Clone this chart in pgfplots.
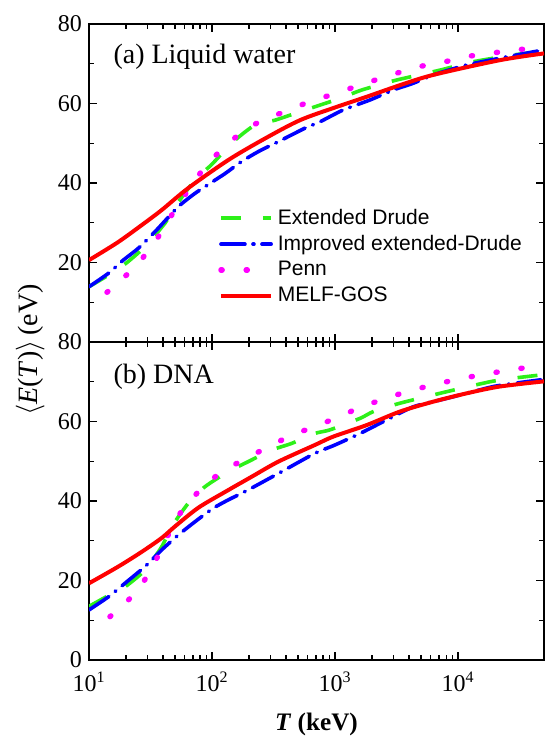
\documentclass[border=0pt]{standalone}
\usepackage{fontspec}
\setmainfont{Liberation Serif}
\setsansfont{Liberation Sans}
\usepackage{pgfplots}
\pgfplotsset{compat=1.18}

\definecolor{edgreen}{RGB}{45,240,25}
\definecolor{iedblue}{RGB}{0,0,255}
\definecolor{pennmag}{RGB}{255,0,255}
\definecolor{melfred}{RGB}{255,0,0}

\tikzset{
  ed/.style={edgreen, line width=1.8pt, dash pattern=on 10pt off 11pt},
  ied/.style={iedblue, line width=1.8pt, line cap=round, dash pattern=on 12pt off 4pt on 0.5pt off 4pt},
  penn/.style={pennmag, line width=2.7pt, line cap=round, dash pattern=on 0.6pt off 12pt},
  melf/.style={melfred, line width=2pt},
}

\begin{document}
\begin{tikzpicture}
\begin{axis}[name=a,
  scale only axis, width=227.5pt, height=159pt,
  xmode=log, xmin=10, xmax=5e4, ymin=0, ymax=80,
  xtick={10,100,1000,10000},
  ytick={0,20,40,60,80}, minor ytick={10,30,50,70},
  tick align=inside, major tick length=4pt, minor tick length=2.5pt,
  xtick pos=both, ytick pos=both,
  axis line style={line width=0.6pt},
  tick style={black, line width=0.6pt},
  tick label style={font=\fontsize{12}{14}\selectfont},
  xticklabels={},
  yticklabels={,20,40,60,80},
  legend style={at={(rel axis cs:0.27,0.445)}, anchor=north west, draw=none, fill=none,
    font=\sffamily\fontsize{10.5}{12.5}\selectfont},
  legend image post style={xscale=1.47},
  legend cell align=left,
]
\addplot[ed, smooth, tension=0.4] coordinates {(10,13.9) (14,16.6) (20,19.8) (28.5,24.0) (41.5,29.9) (50,34.0) (72.8,40.8) (99,44.6) (149,50.4) (224,54.6) (325,55.8) (473,57.5) (755,59.6) (1030,61.0) (1650,63.4) (2320,64.7) (3160,65.9) (7140,68.4) (13300,70.5) (28200,72.2) (50000,73.2)};
\addlegendentry{Extended Drude}
\addplot[ied, smooth, tension=0.4] coordinates {(10,13.9) (14.4,17.3) (19,20.6) (25.2,23.6) (35.5,28.2) (53,34.0) (72.8,37.4) (96.3,39.9) (128,42.4) (174,45.4) (238,47.9) (346,50.4) (570,53.8) (755,55.4) (1170,58.4) (1930,60.9) (2980,63.4) (4330,65.1) (6310,67.2) (11800,69.7) (21900,71.4) (30000,72.2) (50000,73.5)};
\addlegendentry{Improved extended-Drude}
\addplot[penn, smooth, tension=0.4] coordinates {(14,12.5) (23.7,18.9) (34.4,25.2) (47,31.9) (64,38.2) (87.7,44.1) (100,46.0) (140,50.4) (217,54.6) (357,57.5) (570,60.0) (910,62.1) (1455,64.2) (2320,66.3) (3160,67.6) (4900,69.3) (7830,70.5) (11800,71.8) (18200,72.6) (26300,73.3) (40700,73.9) (50000,74.0)};
\addlegendentry{Penn}
\addplot[melf, smooth, tension=0.5] coordinates {(10,20.6) (17,25.0) (26.8,29.4) (39,33.2) (64,38.7) (136,45.8) (270,51.2) (519,55.8) (1000,59.0) (1811,61.7) (3370,64.6) (6300,67.2) (21900,70.9) (50000,72.6)};
\addlegendentry{MELF-GOS}
\node[anchor=base west, inner sep=0pt, font=\fontsize{14}{16}\selectfont] at (rel axis cs:0.053,0.877) {(a) Liquid water};
\end{axis}

\begin{axis}[name=b, at={(a.south west)}, anchor=north west,
  scale only axis, width=227.5pt, height=159pt,
  xmode=log, xmin=10, xmax=5e4, ymin=0, ymax=80,
  xtick={10,100,1000,10000},
  ytick={0,20,40,60,80}, minor ytick={10,30,50,70},
  tick align=inside, major tick length=4pt, minor tick length=2.5pt,
  xtick pos=both, ytick pos=both,
  axis line style={line width=0.6pt},
  tick style={black, line width=0.6pt},
  tick label style={font=\fontsize{12}{14}\selectfont},
  xticklabel style={yshift=-2.5pt},
  xticklabels={10\textsuperscript{1},10\textsuperscript{2},10\textsuperscript{3},10\textsuperscript{4}},
  yticklabels={0,20,40,60,80},
  xlabel={\textbf{\textit{T} (keV)}},
  xlabel style={at={(rel axis cs:0.5,0)}, anchor=base, yshift=-35pt, font=\fontsize{12.6}{15}\selectfont},
]
\addplot[ed, smooth, tension=0.4] coordinates {(10,13.5) (14,16.0) (19.6,18.4) (28.5,22.6) (39,28.5) (47,33.5) (64,39.4) (87.7,43.6) (136,47.4) (197,49.9) (305,52.8) (445,54.5) (687,57.0) (910,57.9) (1600,60.8) (2050,62.5) (3370,64.6) (8090,67.5) (18200,70.0) (28200,70.9) (50000,71.8)};
\addplot[ied, smooth, tension=0.4] coordinates {(10,12.6) (14.4,15.9) (19.6,19.3) (28.5,23.5) (39,27.7) (53,31.4) (72.8,34.8) (102.6,38.2) (136,40.3) (197,42.8) (369,47.4) (687,52.0) (1000,54.1) (1600,57.0) (2630,60.4) (4330,63.7) (7140,65.4) (11800,67.1) (19400,68.8) (31900,69.8) (50000,70.6)};
\addplot[penn, smooth, tension=0.4] coordinates {(14.8,10.9) (23.7,16.8) (32.4,23.1) (51.6,35.6) (75.2,41.9) (120,47.4) (191,50.7) (305,54.1) (488,57.0) (780,59.4) (1245,62.1) (1990,64.6) (3160,66.7) (5070,68.5) (8090,70.0) (12900,71.3) (20600,72.4) (33000,73.4) (50000,73.9)};
\addplot[melf, smooth, tension=0.5] coordinates {(10,19.3) (17.3,23.5) (26.8,27.2) (39,30.7) (50,33.6) (77.4,38.3) (128,42.3) (210,46.1) (346,49.9) (687,54.1) (968,56.2) (1811,59.1) (3370,62.5) (6310,65.0) (11800,67.1) (21900,68.8) (50000,70.1)};
\node[anchor=base west, inner sep=0pt, font=\fontsize{14}{16}\selectfont] at (rel axis cs:0.053,0.871) {(b) DNA};
\end{axis}

\node[rotate=90, anchor=south, inner sep=0pt, font=\fontsize{14}{16}\selectfont] at ([xshift=-22pt,yshift=-4pt]a.south west) {$\langle$\textit{E}(\textit{T})$\rangle$\,(eV)};

\pgfresetboundingbox
\path[use as bounding box] ([xshift=-44.5pt,yshift=12pt]a.north west) rectangle ([xshift=0.3pt,yshift=-38pt]b.south east);
\end{tikzpicture}
\end{document}
